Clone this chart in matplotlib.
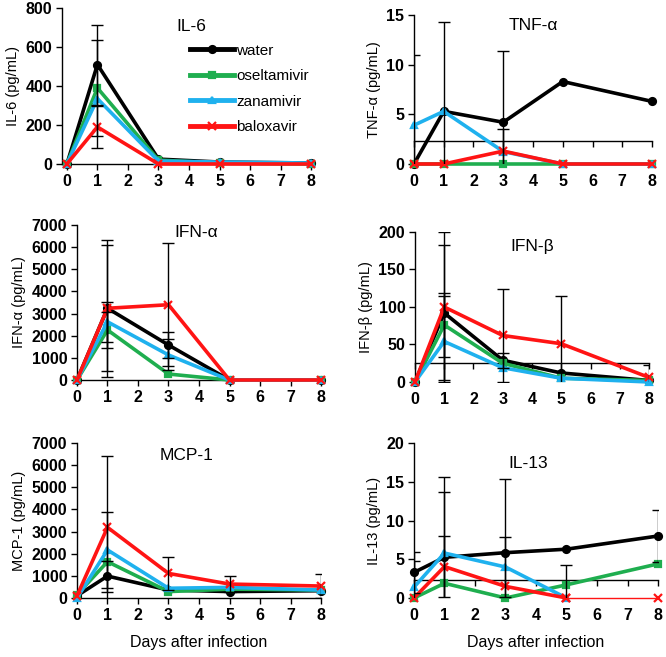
import numpy as np
import matplotlib
matplotlib.use('Agg')
import matplotlib.pyplot as plt

plt.rcParams['font.family'] = ['Liberation Sans', 'DejaVu Sans']

nan = np.nan
days = [0, 1, 3, 5, 8]
groups = ['water', 'oseltamivir', 'zanamivir', 'baloxavir']
colors = ['black', '#1fae4f', '#1fb1ee', '#ff1414']
markers = ['o', 's', '^', 'x']

# values, order: water, oseltamivir, zanamivir, baloxavir
il6 = [[0, 510, 25, 10, 5], [0, 390, 20, 5, 0], [0, 335, 15, 10, 5], [0, 190, 0, 0, 0]]
il6_err = [[nan, 205, nan, nan, nan], [nan, 245, nan, nan, nan],
           [nan] * 5, [nan, 108, nan, nan, nan]]

tnf = [[0, 5.3, 4.2, 8.3, 6.3], [0, 0, 0, 0, 0], [3.9, 5.3, 1.25, 0, 0], [0, 0, 1.3, 0, 0]]
tnf_err = [[nan, 9.0, 7.2, nan, nan], [nan] * 5,
           [7.1, nan, nan, nan, nan], [nan, nan, 2.2, nan, nan]]

ifna = [[0, 3240, 1580, 0, 0], [0, 2260, 270, 0, 0], [0, 2630, 1130, 0, 0], [0, 3240, 3400, 0, 0]]
ifna_err = [[nan, 3100, 580, nan, nan], [nan, 800, nan, nan, nan],
            [nan, 900, 700, nan, nan], [nan, 2850, 2780, nan, nan]]

ifnb = [[0, 92, 29, 12, 2], [0, 76, 25, 5, 2], [0, 54, 19, 5, 0], [0, 100, 62, 51, 6]]
ifnb_err = [[nan, 90, 10, nan, nan], [nan, 43, nan, nan, nan],
            [nan, 60, nan, nan, nan], [nan, 100, 62, 64, 17]]

mcp1 = [[100, 990, 360, 290, 330], [150, 1640, 290, 400, 360],
        [0, 2170, 440, 480, 360], [100, 3190, 1110, 630, 540]]
mcp1_err = [[nan, 700, nan, nan, nan], [nan] * 5,
            [nan, 1730, nan, nan, nan], [nan, 3240, 760, 380, 540]]

il13 = [[3.3, 5.25, 5.85, 6.3, 8.0], [0, 1.9, 0, 1.7, 4.4],
        [1.4, 5.8, 4.0, 0, nan], [0, 4.05, 1.5, 0, 0]]
il13_err = [[2.7, 10.3, 9.45, nan, 3.3], [nan, nan, nan, 2.5, nan],
            [3.4, 7.9, 3.9, nan, nan], [nan, 3.9, nan, nan, nan]]


def panel(rect, vals, errs, ymax, ystep, title, tpos, ylabel, xmin=0.0,
          limit=None, thin_tail=False, xlabel=False):
    ax = fig.add_axes(rect)
    for i in range(4):
        y = np.array(vals[i], dtype=float)
        if thin_tail and i == 3:
            ax.plot(days[:4], y[:4], color=colors[i], lw=2.6, marker=markers[i],
                    ms=6, mew=1.6, clip_on=False, zorder=3 + i)
            ax.plot(days[3:], y[3:], color=colors[i], lw=1.0, marker=markers[i],
                    ms=6, mew=1.6, clip_on=False, zorder=3 + i)
        else:
            ax.plot(days, y, color=colors[i], lw=2.6, marker=markers[i],
                    ms=6 if markers[i] == 'x' else 5, mew=1.6,
                    clip_on=False, zorder=3 + i, label=groups[i])
        e = np.array(errs[i], dtype=float)
        if not np.all(np.isnan(e)):
            ax.errorbar(days, y, yerr=e, fmt='none', ecolor='black',
                        elinewidth=1.0, capsize=4, capthick=1.0, zorder=10)
    ax.set_xlim(xmin, 8)
    ax.set_ylim(0, ymax)
    ax.set_xticks(range(9))
    ax.set_yticks(np.arange(0, ymax + ystep / 2, ystep))
    for s in ['top', 'right']:
        ax.spines[s].set_visible(False)
    ax.spines['left'].set_linewidth(1.0)
    ax.tick_params(axis='both', direction='out', length=4, width=1,
                   labelsize=11.5, pad=3)
    for lab in ax.get_xticklabels() + ax.get_yticklabels():
        lab.set_fontweight('bold')
    if limit is not None:
        ax.spines['bottom'].set_visible(False)
        ax.tick_params(axis='x', length=0, pad=7)
        sec = ax.secondary_xaxis(limit / ymax)
        sec.set_xticks(range(9))
        sec.tick_params(axis='x', direction='out', length=4, width=1,
                        labelbottom=False)
        sec.spines['bottom'].set_linewidth(1.0)
    else:
        ax.spines['bottom'].set_linewidth(1.0)
    ax.text(tpos[0], tpos[1], title, transform=ax.transAxes, fontsize=12.5,
            ha='center', va='center')
    ax.set_ylabel(ylabel, fontsize=10.5, labelpad=4)
    if xlabel:
        ax.set_xlabel('Days after infection', fontsize=11.5, labelpad=9)
    return ax


fig = plt.figure(figsize=(6.66, 6.57), dpi=100)

ax1 = panel([0.0931, 0.7504, 0.374, 0.2374], il6, il6_err, 800, 200, 'IL-6',
            (0.52, 0.88), 'IL-6 (pg/mL)', xmin=-0.16)
leg = ax1.legend(loc='upper left', bbox_to_anchor=(0.49, 0.81), frameon=False,
                 fontsize=11, handlelength=2.9, handletextpad=0.1,
                 labelspacing=0.75, borderaxespad=0)
for h in leg.get_lines():
    h.set_linewidth(3.5)

panel([0.6216, 0.7504, 0.3574, 0.2268], tnf, tnf_err, 15, 5, 'TNF-α',
      (0.5, 0.93), 'TNF-α (pg/mL)', limit=2.3)
panel([0.1156, 0.4216, 0.3664, 0.2359], ifna, ifna_err, 7000, 1000, 'IFN-α',
      (0.49, 0.95), 'IFN-α (pg/mL)')
panel([0.6231, 0.4186, 0.3514, 0.2283], ifnb, ifnb_err, 200, 50, 'IFN-β',
      (0.5, 0.9), 'IFN-β (pg/mL)', limit=25)
panel([0.1156, 0.0898, 0.3664, 0.2359], mcp1, mcp1_err, 7000, 1000, 'MCP-1',
      (0.45, 0.92), 'MCP-1 (pg/mL)', xlabel=True)
panel([0.6216, 0.0898, 0.3664, 0.2359], il13, il13_err, 20, 5, 'IL-13',
      (0.47, 0.87), 'IL-13 (pg/mL)', limit=2.3, thin_tail=True, xlabel=True)

fig.savefig('out.png', dpi=100)
